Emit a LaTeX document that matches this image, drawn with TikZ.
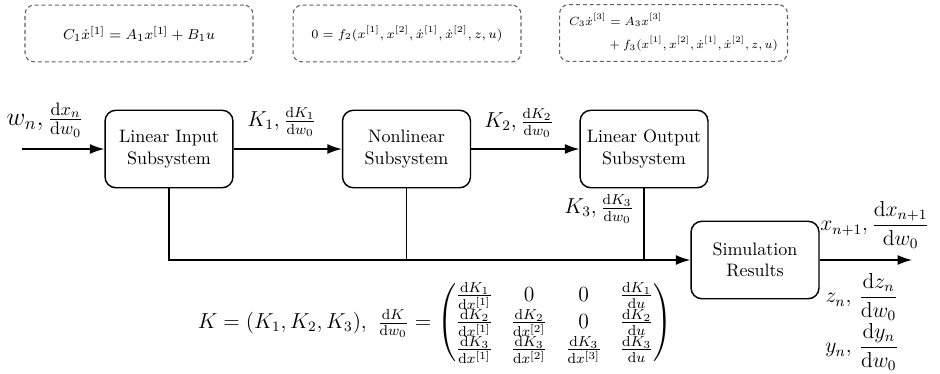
\documentclass[tikz,border=0pt]{standalone}
\usepackage{amsmath}
\usepackage{graphicx}
\usetikzlibrary{arrows.meta}
\newcommand{\dif}{\mathrm{d}}
\begin{document}
\begin{tikzpicture}[x=0.555pt,y=-0.555pt,
  block/.style={draw, thick, rounded corners=6pt, align=center,
    minimum width=71pt, minimum height=43pt, inner sep=2pt},
  eqbox/.style={draw=black!62, line width=0.6pt, dash pattern=on 2.2pt off 1.6pt,
    rounded corners=5pt, minimum width=126.5pt, minimum height=31.5pt,
    inner sep=1pt, font=\fontsize{7}{9}\selectfont},
  flow/.style={thick, -{Latex[length=8pt,width=5.5pt]}},
  wire/.style={thick},
  lbl/.style={font=\large, inner sep=0pt}]
\useasboundingbox (0,0) rectangle (940,373);

% equations of the three subsystems
\node[eqbox, font=\footnotesize] (e1) at (139,33.5) {$C_1\dot{x}^{[1]} = A_1x^{[1]} + B_1u$};
\node[eqbox] (e2) at (407,33.5) {$0 = f_2(x^{[1]},x^{[2]},\dot{x}^{[1]},\dot{x}^{[2]},z,u)$};
\node[eqbox] (e3) at (673.5,33) {\scalebox{0.94}{$\begin{aligned} C_3\dot{x}^{[3]} &= A_3x^{[3]}\\
  &+ f_3(x^{[1]},x^{[2]},\dot{x}^{[1]},\dot{x}^{[2]},z,u)\end{aligned}$}};

% blocks
\node[block] (lin)  at (169,149)   {Linear Input\\Subsystem};
\node[block] (non)  at (406.5,149) {Nonlinear\\Subsystem};
\node[block] (lout) at (644,149)   {Linear Output\\Subsystem};
\node[block] (sim)  at (755,260)   {Simulation\\Results};

\coordinate (in)  at (22,149);
\coordinate (out) at (912,260);

% signal flow
\draw[flow] (in) -- (lin);
\draw[flow] (lin) -- (non);
\draw[flow] (non) -- (lout);
\draw[flow] (lin.south) |- (sim.west);
\draw[wire] (non.south) -- (non.south |- sim.west);
\draw[wire] (lout.south) -- (lout.south |- sim.west);
\draw[flow] (sim) -- (out);

% signal labels
\node[lbl, font=\Large] (lw)  at (45,120)  {$w_n,\frac{\dif x_n}{\dif w_0}$};
\node[lbl] (lk1) at (282,122) {$K_1,\frac{\dif K_1}{\dif w_0}$};
\node[lbl] (lk2) at (519,123) {$K_2,\frac{\dif K_2}{\dif w_0}$};
\node[lbl] (lk3) at (599,209) {$K_3,\frac{\dif K_3}{\dif w_0}$};
\node[lbl] (lx)  at (875,225) {$x_{n+1},\dfrac{\dif x_{n+1}}{\dif w_0}$};
\node[lbl] (lz)  at (862,297) {$z_n,\,\dfrac{\dif z_n}{\dif w_0}$};
\node[lbl] (ly)  at (862,347) {$y_n,\,\dfrac{\dif y_n}{\dif w_0}$};

% sensitivity matrix
\node[lbl] (mat) at (435,323) {$K = (K_1,K_2,K_3),\ \frac{\dif K}{\dif w_0} =
  \begin{pmatrix}
  \frac{\dif K_1}{\dif x^{[1]}} & 0 & 0 & \frac{\dif K_1}{\dif u}\\
  \frac{\dif K_2}{\dif x^{[1]}} & \frac{\dif K_2}{\dif x^{[2]}} & 0 & \frac{\dif K_2}{\dif u}\\
  \frac{\dif K_3}{\dif x^{[1]}} & \frac{\dif K_3}{\dif x^{[2]}} & \frac{\dif K_3}{\dif x^{[3]}} & \frac{\dif K_3}{\dif u}
  \end{pmatrix}$};
\end{tikzpicture}
\end{document}
